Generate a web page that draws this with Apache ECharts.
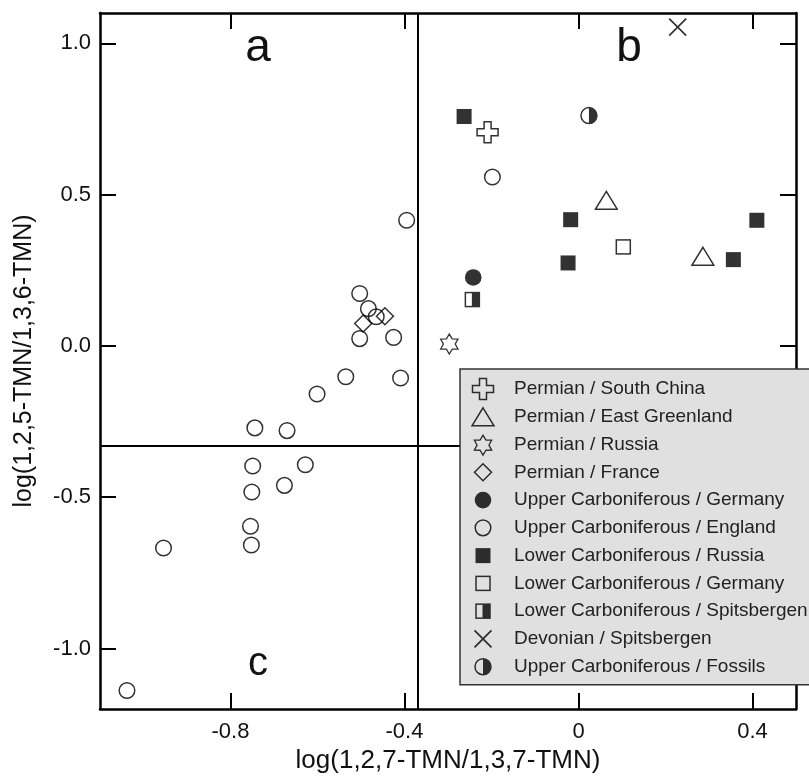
<!DOCTYPE html>
<html><head><meta charset="utf-8">
<script src="https://cdn.jsdelivr.net/npm/echarts@6/dist/echarts.min.js"></script>
<style>html,body{margin:0;padding:0;background:#fff}#c{width:809px;height:784px}</style>
</head><body><div id="c"></div>
<script>
// ---- data ----
const xTicks = [-0.8, -0.4, 0, 0.4];
const yTicks = [-1.0, -0.5, 0, 0.5, 1.0];
const xRange = [-1.1, 0.5];
const yRange = [-1.2, 1.1];
const xDivider = -0.368;
const yDivider = -0.33;
const xTitle = 'log(1,2,7-TMN/1,3,7-TMN)';
const yTitle = 'log(1,2,5-TMN/1,3,6-TMN)';
const panelLabels = ['a', 'b', 'c'];

const seriesNames = [
  'Permian / South China',
  'Permian / East Greenland',
  'Permian / Russia',
  'Permian / France',
  'Upper Carboniferous / Germany',
  'Upper Carboniferous / England',
  'Lower Carboniferous / Russia',
  'Lower Carboniferous / Germany',
  'Lower Carboniferous / Spitsbergen',
  'Devonian / Spitsbergen',
  'Upper Carboniferous / Fossils'
];
const permianSouthChina = [[-0.209, 0.706]];
const permianEastGreenland = [[0.064, 0.481], [0.286, 0.296]];
const permianRussia = [[-0.297, 0.008]];
const permianFrance = [[-0.445, 0.098], [-0.495, 0.074]];
const upperCarbGermany = [[-0.242, 0.226]];
const upperCarbEngland = [
  [-0.198, 0.558], [-0.395, 0.415], [-0.503, 0.173], [-0.483, 0.123], [-0.465, 0.096],
  [-0.503, 0.024], [-0.425, 0.028], [-0.535, -0.102], [-0.409, -0.106], [-0.601, -0.159],
  [-0.744, -0.271], [-0.670, -0.280], [-0.749, -0.397], [-0.628, -0.393], [-0.676, -0.461],
  [-0.751, -0.483], [-0.754, -0.596], [-0.752, -0.658], [-0.954, -0.668], [-1.038, -1.139]
];
const lowerCarbRussia = [[-0.263, 0.758], [-0.018, 0.417], [-0.024, 0.274], [0.356, 0.285], [0.410, 0.415]];
const lowerCarbGermany = [[0.103, 0.327]];
const lowerCarbSpitsbergen = [[-0.244, 0.153]];
const devonianSpitsbergen = [[0.228, 1.053]];
const upperCarbFossils = [[0.024, 0.761]];

const seriesData = [
  permianSouthChina, permianEastGreenland, permianRussia, permianFrance,
  upperCarbGermany, upperCarbEngland, lowerCarbRussia, lowerCarbGermany,
  lowerCarbSpitsbergen, devonianSpitsbergen, upperCarbFossils
];

// ---- symbols ----
const S = 'stroke="#000" stroke-width="1.5" fill="none"';
function hexagram() {
  const pts = [];
  for (let i = 0; i < 12; i++) {
    const a = (-90 + i * 30) * Math.PI / 180;
    const r = i % 2 === 0 ? 10 : 5.9;
    pts.push((12 + r * Math.cos(a)).toFixed(2) + ',' + (12.6 + r * Math.sin(a)).toFixed(2));
  }
  return '<polygon points="' + pts.join(' ') + '" stroke="#000" stroke-width="1.3" fill="none" stroke-linejoin="miter"/>';
}
const shapes = [
  '<polygon points="8.5,1.5 15.5,1.5 15.5,8.5 22.5,8.5 22.5,15.5 15.5,15.5 15.5,22.5 8.5,22.5 8.5,15.5 1.5,15.5 1.5,8.5 8.5,8.5" ' + S + '/>',
  '<polygon points="12,3 23,21 1,21" ' + S + '/>',
  hexagram(),
  '<polygon points="12,3.5 20.5,12 12,20.5 3.5,12" ' + S + '/>',
  '<circle cx="12" cy="12" r="8.3" fill="#000"/>',
  '<circle cx="12" cy="12" r="7.8" ' + S + '/>',
  '<rect x="4.5" y="4.5" width="15" height="15" fill="#000"/>',
  '<rect x="5" y="5" width="14" height="14" ' + S + '/>',
  '<rect x="5" y="5" width="14" height="14" ' + S + '/><rect x="11.5" y="5" width="7.5" height="14" fill="#000"/>',
  '<path d="M3.5,3.5 L20.5,20.5 M20.5,3.5 L3.5,20.5" stroke="#000" stroke-width="1.7" fill="none"/>',
  '<circle cx="12" cy="12" r="8" ' + S + '/><path d="M12,4 A8,8 0 0 1 12,20 Z" fill="#000"/>'
];
function svgUrl(markup, w) {
  const svg = '<svg xmlns="http://www.w3.org/2000/svg" width="' + w + '" height="24" viewBox="0 0 ' + w + ' 24">' + markup + '</svg>';
  return 'image://data:image/svg+xml;charset=utf-8,' + encodeURIComponent(svg);
}

const FONT = '"Liberation Sans", Arial, Helvetica, sans-serif';
const chart = echarts.init(document.getElementById('c'), null, { renderer: 'canvas' });

const axisLine = { show: true, onZero: false, lineStyle: { color: '#000', width: 2.5 } };
const tickStyle = { color: '#000', width: 2 };

const series = seriesNames.map((name, i) => ({
  name: name,
  type: 'scatter',
  data: seriesData[i],
  symbol: svgUrl(shapes[i], 24),
  symbolSize: 24,
  z: 3,
  emphasis: { disabled: true }
}));
series.push({
  type: 'scatter',
  data: [],
  silent: true,
  markLine: {
    silent: true,
    symbol: 'none',
    label: { show: false },
    lineStyle: { color: '#000', width: 2, type: 'solid' },
    emphasis: { disabled: true },
    data: [{ xAxis: xDivider }, { yAxis: yDivider }]
  }
});

chart.setOption({
  animation: false,
  backgroundColor: '#fff',
  textStyle: { fontFamily: FONT },
  grid: { left: 100, right: 13, top: 13, bottom: 75, containLabel: false },
  xAxis: [
    {
      type: 'value', position: 'bottom', min: xRange[0], max: xRange[1],
      axisLine: axisLine,
      axisTick: { show: true, inside: true, length: 16, lineStyle: tickStyle, customValues: xTicks },
      axisLabel: { show: true, customValues: xTicks, fontSize: 22, color: '#111', fontFamily: FONT, margin: 12,
        formatter: v => (Math.abs(v) < 1e-9 ? '0' : v.toFixed(1)) },
      splitLine: { show: false },
      name: xTitle, nameLocation: 'middle', nameGap: 35,
      nameTextStyle: { fontSize: 26, color: '#111', fontFamily: FONT }
    },
    {
      type: 'value', position: 'top', min: xRange[0], max: xRange[1],
      axisLine: axisLine,
      axisTick: { show: true, inside: true, length: 16, lineStyle: tickStyle, customValues: xTicks },
      axisLabel: { show: false },
      splitLine: { show: false }
    }
  ],
  yAxis: [
    {
      type: 'value', position: 'left', min: yRange[0], max: yRange[1],
      axisLine: axisLine,
      axisTick: { show: true, inside: true, length: 16, lineStyle: tickStyle, customValues: yTicks },
      axisLabel: { show: true, customValues: yTicks, fontSize: 22, color: '#111', fontFamily: FONT, margin: 9,
        formatter: v => v.toFixed(1) },
      splitLine: { show: false },
      name: yTitle, nameLocation: 'middle', nameGap: 63,
      nameTextStyle: { fontSize: 25, color: '#111', fontFamily: FONT }
    },
    {
      type: 'value', position: 'right', min: yRange[0], max: yRange[1],
      axisLine: axisLine,
      axisTick: { show: true, inside: true, length: 16, lineStyle: tickStyle, customValues: yTicks },
      axisLabel: { show: false },
      splitLine: { show: false }
    }
  ],
  legend: {
    show: true,
    orient: 'vertical',
    left: 460,
    top: 369,
    padding: [8, 30, 6, 11],
    itemWidth: 38,
    itemHeight: 24,
    itemGap: 3.77,
    backgroundColor: '#e0e0e0',
    borderColor: '#333',
    borderWidth: 1.5,
    borderRadius: 0,
    selectedMode: false,
    z: 10,
    textStyle: { fontSize: 19, color: '#222', fontFamily: FONT, padding: 0 },
    data: seriesNames.map((n, i) => ({ name: n, icon: svgUrl(shapes[i], 38) }))
  },
  graphic: [
    { type: 'text', x: 258, y: 48, z: 5, style: { text: panelLabels[0], fontSize: 46, fontFamily: FONT, fill: '#111', textAlign: 'center', textVerticalAlign: 'middle' } },
    { type: 'text', x: 629, y: 48, z: 5, style: { text: panelLabels[1], fontSize: 46, fontFamily: FONT, fill: '#111', textAlign: 'center', textVerticalAlign: 'middle' } },
    { type: 'text', x: 258, y: 664, z: 5, style: { text: panelLabels[2], fontSize: 40, fontFamily: FONT, fill: '#111', textAlign: 'center', textVerticalAlign: 'middle' } }
  ],
  series: series
});
</script>
</body></html>
